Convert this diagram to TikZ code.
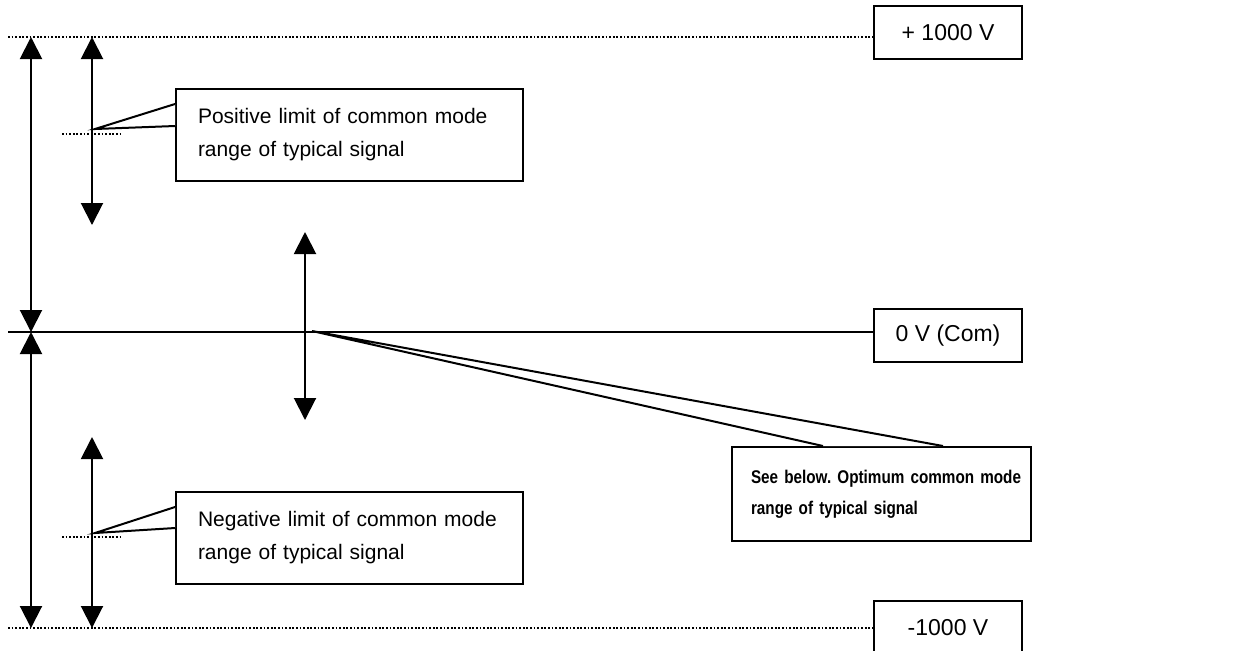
\documentclass[tikz,border=0pt]{standalone}
\usepackage{fontspec}
\setmainfont{Liberation Sans}
\newfontfamily\NarrowBold[FakeStretch=0.83]{Liberation Sans Bold}
\usetikzlibrary{arrows.meta,calc}
\tikzset{
  LevelArr/.style={line width=1pt,{Triangle[width=11pt,length=11pt]}-{Triangle[width=11pt,length=11pt]}},
  RefLine/.style={line width=1pt,dash pattern=on 0.9pt off 0.9pt},
  VoltBox/.style={draw,line width=1pt,fill=white,anchor=north west,minimum width=74pt,minimum height=26.5pt,
    font=\fontsize{11.5}{13}\selectfont},
  NoteBox/.style={draw,line width=1pt,fill=white,anchor=north west,minimum height=46pt,
    inner xsep=11pt,align=left,font=\fontsize{10.5}{16.5}\selectfont},
  Pointer/.style={draw,line width=1pt,fill=white}
}

\begin{document}
\begin{tikzpicture}[x=0.5pt,y=-0.5pt]
\clip (0,0) rectangle (1245,650);

% level boxes
\node[VoltBox] (Pos) at (873,5) {+ 1000 V};
\node[VoltBox] (Com) at (873,308) {0 V (Com)};
\node[VoltBox] (Neg) at (873,600) {-1000 V};

\coordinate (PosL) at (8,37);
\coordinate (ComL) at (8,332);
\coordinate (NegL) at (8,628);
\draw[RefLine] (PosL) -- (PosL -| Pos.west);
\draw[line width=1pt] (ComL) -- (ComL -| Com.west);
\draw[RefLine] (NegL) -- (NegL -| Neg.west);

% full range arrows
\coordinate (A1) at (31,37);
\coordinate (A2) at (31,332);
\coordinate (A3) at (31,628);
\draw[LevelArr] (A1) -- (A2);
\draw[LevelArr] (A2) -- (A3);

% signal limits
\coordinate (B1) at (92,37);
\coordinate (B2) at (92,225);
\coordinate (B3) at (92,437);
\coordinate (B4) at (92,628);
\draw[LevelArr] (B1) -- (B2);
\draw[LevelArr] (B3) -- (B4);

\coordinate (PosMid) at (62,134);
\coordinate (NegMid) at (62,537);
\draw[RefLine] (PosMid) -- ++(60,0);
\draw[RefLine] (NegMid) -- ++(60,0);

% optimum range
\coordinate (C1) at (305,232);
\coordinate (C2) at (305,420);
\draw[LevelArr] (C1) -- (C2);

% callouts
\node[NoteBox,text width=151.5pt] (PosNote) at (175,88) {Positive limit of common mode\\range of typical signal};
\coordinate (PosTip) at (95,129);
\path[Pointer] ($(PosNote.north west)+(0,16)$) -- (PosTip) -- ($(PosNote.north west)+(0,38)$);

\node[NoteBox,text width=130.5pt,inner xsep=9.5pt,minimum height=47pt,
  font=\NarrowBold\frenchspacing\fontsize{9.2}{15.5}\selectfont] (OptNote) at (731,446)
  {\mbox{See below. Optimum common mode}\\range of typical signal};
\coordinate (OptTip) at (312,331);
\path[Pointer] ($(OptNote.north west)+(92,0)$) -- (OptTip) -- ($(OptNote.north west)+(212,0)$);

\node[NoteBox,text width=151.5pt] (NegNote) at (175,491) {Negative limit of common mode\\range of typical signal};
\coordinate (NegTip) at (95,533);
\path[Pointer] ($(NegNote.north west)+(0,16)$) -- (NegTip) -- ($(NegNote.north west)+(0,37)$);
\end{tikzpicture}
\end{document}
